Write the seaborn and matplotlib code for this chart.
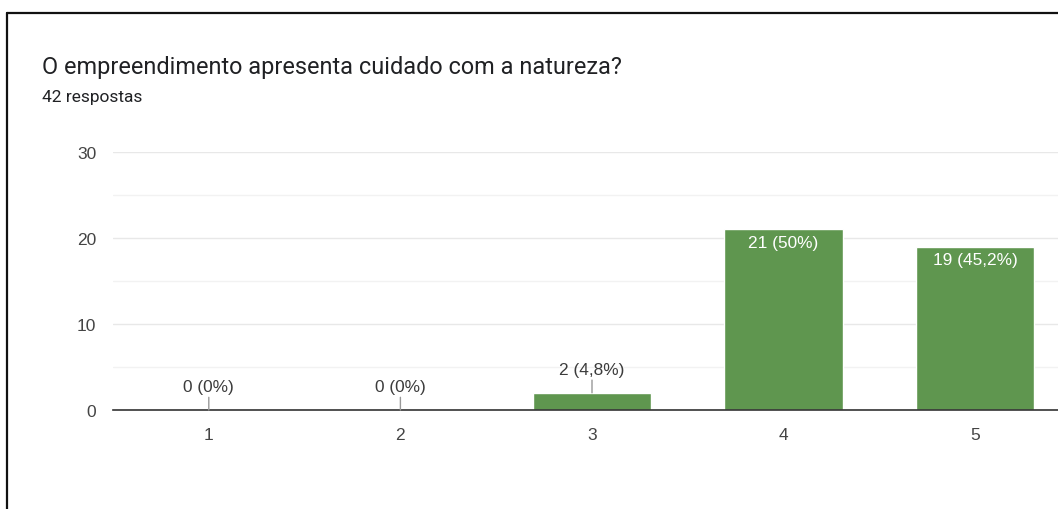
import numpy as np
import pandas as pd
import seaborn as sns
import matplotlib.pyplot as plt
from matplotlib.lines import Line2D
from matplotlib.ticker import MultipleLocator

# data
categories = ["1", "2", "3", "4", "5"]
counts = [0, 0, 2, 21, 19]
labels = ["0 (0%)", "0 (0%)", "2 (4,8%)", "21 (50%)", "19 (45,2%)"]
title = "O empreendimento apresenta cuidado com a natureza?"
subtitle = "42 respostas"

df = pd.DataFrame({"nota": categories, "respostas": counts})

sns.set_theme(style="white")
plt.rcParams["font.family"] = ["Liberation Sans", "DejaVu Sans"]

W, H = 1058, 510
fig = plt.figure(figsize=(W / 100, H / 100), dpi=100)
fig.patch.set_facecolor("white")

# axes placed in pixel terms: x from 113 to ~1071 (cut off at right), y 0 at 411, 30 at 153
ax = fig.add_axes([113 / W, (H - 411) / H, 958 / W, 258 / H])
ax.set_facecolor("white")

green = "#5f964f"
sns.barplot(data=df, x="nota", y="respostas", color=green, width=0.617,
            saturation=1, ax=ax, zorder=3)

ax.set_xlim(-0.5, 4.5)
ax.set_ylim(0, 30)
ax.yaxis.set_major_locator(MultipleLocator(10))
ax.yaxis.set_minor_locator(MultipleLocator(5))
ax.grid(axis="y", which="major", color="#e8e8e8", linewidth=1, zorder=0)
ax.grid(axis="y", which="minor", color="#f2f2f2", linewidth=1, zorder=0)
ax.set_axisbelow(True)
for s in ["top", "right", "left"]:
    ax.spines[s].set_visible(False)
ax.spines["bottom"].set_color("#333333")
ax.spines["bottom"].set_linewidth(1.2)
ax.spines["bottom"].set_zorder(5)

ax.set_xlabel("")
ax.set_ylabel("")
ax.tick_params(axis="both", length=0, labelsize=12.5, colors="#444444")
ax.tick_params(axis="y", pad=12)
ax.tick_params(axis="x", pad=12)

# value labels
for i, (v, lab) in enumerate(zip(counts, labels)):
    if v >= 10:
        ax.annotate(lab, xy=(i, v), xytext=(0, -4), textcoords="offset points",
                    ha="center", va="top", color="white", fontsize=12.4, zorder=6)
    else:
        ax.annotate(lab, xy=(i, v), xytext=(0, 11.5), textcoords="offset points",
                    ha="center", va="bottom", color="#3c3c3c", fontsize=12.4, zorder=6,
                    arrowprops=dict(arrowstyle="-", color="#999999", lw=1,
                                    shrinkA=0, shrinkB=0))

fig.text(42 / W, 1 - 74 / H, title, family=["Roboto", "DejaVu Sans"],
         fontsize=16.9, color="#202124", va="baseline", ha="left")
fig.text(42 / W, 1 - 102 / H, subtitle, family=["Roboto", "DejaVu Sans"],
         fontsize=12.5, color="#202124", va="baseline", ha="left")

# frame of the screenshot: top and left edges
fig.add_artist(Line2D([7 / W, 1], [1 - 14 / H, 1 - 14 / H], color="#111111", lw=1.6,
                      transform=fig.transFigure))
fig.add_artist(Line2D([7 / W, 7 / W], [0, 1 - 14 / H], color="#111111", lw=1.6,
                      transform=fig.transFigure))

fig.savefig("out.png", dpi=100, facecolor="white")
